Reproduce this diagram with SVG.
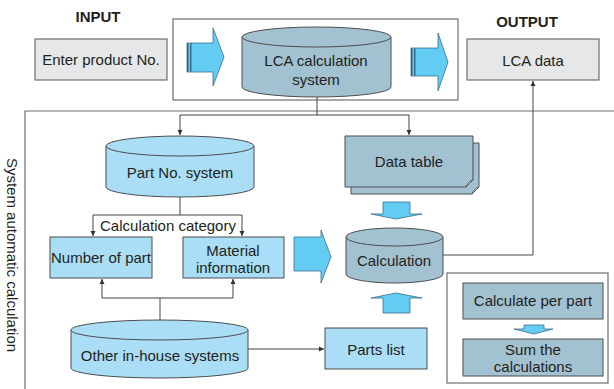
<svg xmlns="http://www.w3.org/2000/svg" width="614" height="389" viewBox="0 0 614 389">
<style>
text{font-family:"Liberation Sans",Arial,sans-serif;fill:#231f20;font-size:15px;text-anchor:middle}
.b{font-weight:bold}
.gray{fill:#e6e7e8;stroke:#6d6e71;stroke-width:1.2}
.frame{fill:none;stroke:#6d6e71;stroke-width:1.2}
.lb{fill:#a9def6;stroke:#4d4d4f;stroke-width:1}
.gb{fill:#a2c1d1;stroke:#4d4d4f;stroke-width:1}
.arr{fill:#62ccf3;stroke:#3d6f8e;stroke-width:0.8}
.ln{fill:none;stroke:#444;stroke-width:1}
</style>
<defs>
<marker id="ah" markerWidth="6" markerHeight="6" refX="5" refY="3" orient="auto-start-reverse" markerUnits="userSpaceOnUse">
<path d="M0,0.5 L5,3 L0,5.5 Z" fill="#333"/>
</marker>
</defs>

<!-- frames -->
<rect class="frame" x="173" y="19" width="285" height="81" fill="#fff"/>
<path class="frame" d="M25,389 V111 H614"/>
<rect class="frame" x="447" y="273" width="161" height="110" fill="#fff"/>

<text class="b" x="98" y="22" font-size="14.5">INPUT</text>
<text class="b" x="527" y="27" font-size="15">OUTPUT</text>
<text x="0" y="0" transform="translate(7,255) rotate(90)" font-size="15">System automatic calculation</text>

<!-- connectors -->
<g id="connectors">
<path class="ln" d="M317,97 V115"/>
<path class="ln" d="M180,135 V115 H409 V135" marker-start="url(#ah)" marker-end="url(#ah)"/>
<path class="ln" d="M180,197 V215"/>
<path class="ln" d="M93,236 V215 H242 V236" marker-start="url(#ah)" marker-end="url(#ah)"/>
<path class="ln" d="M160,320 V298"/>
<path class="ln" d="M102,279 V298 H233 V279" marker-start="url(#ah)" marker-end="url(#ah)"/>
<path class="ln" d="M248,349 H324" marker-end="url(#ah)"/>
<path class="ln" d="M443,255 H533 V81" marker-end="url(#ah)"/>
</g>

<!-- block arrows -->
<g id="arrows">
<path class="arr" d="M187,43 H213 V28 L224,57 L213,86 V72 H187 Z"/>
<rect x="187" y="43" width="1.6" height="29" fill="#2f5e79"/>
<rect x="188.6" y="43" width="1.4" height="29" fill="#7fb3cc"/>
<rect x="190" y="43" width="1.6" height="29" fill="#3b7696"/>
<path class="arr" d="M411,48 H438 V33 L448,62 L438,91 V76 H411 Z"/>
<rect x="411" y="48" width="1.6" height="28" fill="#2f5e79"/>
<rect x="412.6" y="48" width="1.4" height="28" fill="#7fb3cc"/>
<rect x="414" y="48" width="1.6" height="28" fill="#3b7696"/>
<path class="arr" d="M294,237 H321 V230 L331,257 L321,283 V271 H294 Z"/>
<path class="arr" d="M383,202 H410 V214 H422 L396,219 L371,214 H383 Z"/>
<path class="arr" d="M383,313 V298 H371 L396,293 L422,298 H410 V313 Z"/>
<path class="arr" d="M524,325 H544 V329 H553 L534,334 L514,329 H524 Z"/>
</g>

<g id="enter">
<rect class="gray" x="35" y="39" width="132" height="41"/>
<text x="101" y="65">Enter product No.</text>
</g>

<g id="lca-system">
<path class="gb" d="M242,37 V87 A74.5,10 0 0 0 391,87 V37"/>
<ellipse class="gb" cx="316.5" cy="37" rx="74.5" ry="10"/>
<text x="316" y="66" font-size="15.5">LCA calculation</text>
<text x="316" y="85" font-size="15.5">system</text>
</g>

<g id="lca-data">
<rect class="gray" x="467" y="39" width="132" height="41"/>
<text x="533" y="66" font-size="15.5">LCA data</text>
</g>

<g id="part-no">
<path class="lb" d="M106,146 V187 A74,10 0 0 0 254,187 V146"/>
<ellipse class="lb" cx="180" cy="146" rx="74" ry="10"/>
<text x="180" y="178">Part No. system</text>
</g>

<text x="168" y="231">Calculation category</text>

<g id="number-of-part">
<rect class="lb" x="50" y="237" width="102" height="41"/>
<text x="101" y="263" font-size="13">Number of part</text>
</g>

<g id="material">
<rect class="lb" x="183" y="237" width="101" height="41"/>
<text x="233" y="256">Material</text>
<text x="233" y="273">information</text>
</g>

<g id="other">
<path class="lb" d="M71,330 V368 A88.5,10 0 0 0 248,368 V330"/>
<ellipse class="lb" cx="159.5" cy="330" rx="88.5" ry="10"/>
<text x="160" y="361">Other in-house systems</text>
</g>

<g id="parts-list">
<rect class="lb" x="325" y="328" width="102" height="41"/>
<text x="376" y="355">Parts list</text>
</g>

<g id="data-table">
<path class="gb" d="M351,143 H479 V187 L472,194 H351 Z"/>
<path d="M472,194 L479,187 Q474,188 472,194 Z" fill="#d8dde0" stroke="#4d4d4f" stroke-width="0.8"/>
<path class="gb" d="M345,136 H473 V180 L466,187 H345 Z"/>
<path d="M466,187 L473,180 Q468,181 466,187 Z" fill="#d8dde0" stroke="#4d4d4f" stroke-width="0.8"/>
<text x="409" y="167">Data table</text>
</g>

<g id="calculation">
<path class="gb" d="M346,237 V274 A48.5,9 0 0 0 443,274 V237"/>
<ellipse class="gb" cx="394.5" cy="237" rx="48.5" ry="9"/>
<text x="394" y="266">Calculation</text>
</g>

<g id="calc-per-part">
<rect class="gb" x="463" y="283" width="140" height="36"/>
<text x="533" y="306">Calculate per part</text>
</g>

<g id="sum">
<rect class="gb" x="463" y="339" width="140" height="37"/>
<text x="533" y="355">Sum the</text>
<text x="533" y="372">calculations</text>
</g>
</svg>
